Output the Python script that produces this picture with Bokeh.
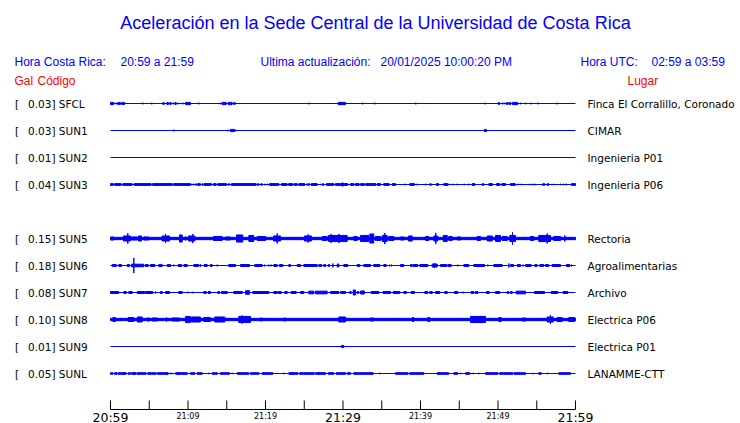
from bokeh.plotting import figure
from bokeh.models import Range1d, Label, ColumnDataSource
from bokeh.core.properties import value
from bokeh.embed import file_html
from bokeh.resources import INLINE

# ---------------- data ----------------
codes = ["SFCL", "SUN1", "SUN2", "SUN3", "SUN5", "SUN6", "SUN7", "SUN8", "SUN9", "SUNL"]
peak_gal = [0.03, 0.03, 0.01, 0.04, 0.15, 0.18, 0.08, 0.10, 0.01, 0.05]
places = ["Finca El Corralillo, Coronado", "CIMAR", "Ingenieria P01", "Ingenieria P06",
          "Rectoria", "Agroalimentarias", "Archivo", "Electrica P06", "Electrica P01",
          "LANAMME-CTT"]

tick_minutes = [0, 5, 10, 15, 20, 25, 30, 35, 40, 45, 50, 55, 60]
big_label_minutes = [0, 30, 60]
big_labels = ["20:59", "21:29", "21:59"]
small_label_minutes = [10, 20, 40, 50]
small_labels = ["21:09", "21:19", "21:39", "21:49"]

# trace activity: (start minute, end minute, half amplitude in mGal) read from the record
sfcl_events = [(0.00, 0.43, 25), (0.77, 0.77, 18), (0.94, 1.29, 20), (1.46, 1.81, 22), (4.17, 4.17, 18),
               (4.74, 4.74, 12), (5.33, 5.33, 18), (6.75, 6.93, 20), (7.26, 7.48, 20), (7.65, 7.83, 20),
               (8.09, 8.09, 18), (8.30, 8.48, 20), (8.74, 8.74, 18), (9.33, 9.33, 18), (9.68, 10.32, 25),
               (10.88, 10.88, 12), (11.39, 11.39, 18), (14.19, 14.19, 18), (14.41, 14.93, 25),
               (15.19, 15.70, 25), (15.91, 16.09, 20), (17.33, 17.33, 12), (25.59, 25.59, 18),
               (29.38, 30.32, 25), (32.52, 32.52, 18), (34.10, 34.10, 18), (39.39, 39.39, 18),
               (48.35, 48.35, 18), (50.03, 50.19, 20), (50.54, 50.54, 18), (50.80, 50.80, 18),
               (51.06, 51.23, 20), (51.39, 51.65, 20), (51.87, 52.55, 25), (52.94, 52.94, 18),
               (53.59, 53.59, 18), (54.23, 54.23, 18), (55.14, 55.14, 18), (57.59, 57.59, 18)]

sun1_events = [(8.17, 8.17, 20), (15.14, 15.14, 18), (15.48, 16.00, 25), (16.17, 16.17, 18),
               (18.19, 18.19, 10), (18.45, 18.45, 10), (48.26, 48.52, 25)]

sun2_events = [(29.97, 29.97, 10)]

sun3_events = [(0.00, 0.35, 20), (0.52, 1.38, 20), (1.59, 2.80, 20), (3.06, 5.25, 20), (5.42, 7.96, 20),
               (8.13, 10.32, 20), (10.49, 10.49, 16), (10.71, 10.71, 16), (10.97, 11.06, 18),
               (11.26, 11.61, 20), (11.83, 11.96, 18), (12.09, 13.03, 20), (13.29, 13.64, 20),
               (13.85, 14.97, 20), (15.19, 15.35, 18), (15.61, 18.80, 20), (18.97, 19.14, 18),
               (19.39, 19.57, 18), (19.91, 19.91, 16), (20.26, 20.26, 16), (20.52, 21.72, 20),
               (22.06, 22.80, 20), (22.97, 23.52, 20), (23.70, 24.09, 20), (24.30, 25.07, 20),
               (25.29, 25.29, 16), (25.46, 25.68, 18), (25.90, 26.67, 20), (27.14, 27.14, 16),
               (27.35, 27.52, 18), (27.87, 28.81, 20), (29.03, 30.62, 20), (29.95, 29.95, 45),
               (30.97, 31.39, 20), (31.57, 32.09, 20), (32.26, 32.77, 20), (32.94, 34.23, 20),
               (34.41, 34.84, 20), (35.26, 35.96, 20), (36.35, 36.77, 20), (37.97, 37.97, 16),
               (38.62, 39.23, 20), (39.57, 39.57, 16), (40.68, 40.68, 16), (41.20, 41.38, 18),
               (42.06, 42.32, 20), (43.01, 43.52, 20), (43.74, 43.74, 16), (44.17, 44.17, 16),
               (44.74, 44.74, 16), (45.64, 45.64, 16), (46.23, 46.23, 16), (46.67, 47.01, 20),
               (47.96, 48.17, 18), (48.81, 49.29, 20), (49.81, 50.23, 20), (50.49, 50.97, 20),
               (51.61, 52.22, 20), (52.61, 52.61, 16), (53.03, 53.03, 16), (54.10, 54.10, 16),
               (54.49, 54.49, 16), (54.80, 54.80, 16), (55.78, 56.04, 18), (56.35, 56.55, 18),
               (57.20, 57.20, 16), (58.06, 58.06, 16), (58.49, 58.49, 16), (58.84, 58.84, 16),
               (59.48, 60.00, 20)]

sun5_events = [(0.00, 60.00, 26), (0.00, 0.43, 34), (1.68, 2.58, 56), (2.23, 2.23, 117), (2.71, 3.45, 34),
               (3.61, 4.00, 56), (4.30, 4.94, 34), (6.67, 7.61, 56), (7.10, 7.10, 101), (8.90, 9.25, 79),
               (9.68, 9.68, 45), (10.06, 10.88, 56), (10.62, 10.62, 101), (11.83, 11.83, 34),
               (13.29, 14.41, 45), (14.84, 15.48, 34), (16.26, 17.07, 79), (17.85, 18.49, 68),
               (18.93, 20.00, 45), (21.03, 21.94, 56), (21.51, 21.51, 112), (22.80, 22.80, 34),
               (25.03, 25.94, 56), (25.51, 25.51, 90), (27.32, 27.96, 45), (28.13, 29.68, 68),
               (28.48, 28.48, 101), (29.46, 29.46, 101), (29.68, 30.54, 68), (31.39, 31.83, 45),
               (32.26, 33.33, 68), (33.46, 33.97, 101), (34.19, 34.84, 45), (35.06, 35.70, 68),
               (35.39, 35.39, 124), (35.91, 36.55, 45), (37.42, 37.85, 34), (38.45, 38.93, 56),
               (40.65, 41.07, 45), (41.72, 42.23, 56), (41.97, 41.97, 124), (42.93, 43.45, 68),
               (43.65, 44.09, 45), (44.74, 45.16, 34), (47.31, 47.74, 45), (48.61, 49.25, 56),
               (49.68, 50.32, 68), (50.54, 51.19, 45), (51.52, 52.26, 68), (51.87, 51.87, 135),
               (53.33, 53.33, 34), (54.19, 54.62, 45), (55.26, 56.77, 68), (56.35, 56.35, 112),
               (57.20, 58.06, 45), (58.62, 58.62, 68)]

sun6_events = [(0.22, 0.74, 22), (1.07, 1.42, 22), (2.15, 2.45, 22), (2.71, 3.45, 30), (3.01, 3.01, 169),
               (3.45, 4.30, 28), (4.52, 4.86, 22), (5.16, 5.72, 22), (6.23, 6.67, 24), (7.32, 7.74, 22),
               (8.17, 8.17, 20), (8.74, 9.16, 22), (9.46, 9.90, 22), (10.75, 11.39, 22), (11.61, 11.61, 34),
               (12.09, 12.48, 22), (12.90, 13.12, 22), (13.77, 13.77, 20), (15.26, 16.13, 22),
               (16.77, 17.94, 22), (18.62, 19.57, 22), (19.87, 19.87, 20), (20.43, 20.43, 20),
               (20.74, 20.74, 20), (21.07, 21.51, 22), (21.81, 22.23, 22), (23.01, 23.23, 22),
               (24.09, 24.52, 22), (24.94, 26.67, 22), (26.88, 27.23, 22), (27.52, 27.74, 22),
               (28.09, 28.26, 22), (28.68, 28.68, 45), (29.25, 29.46, 34), (30.10, 30.62, 22),
               (31.83, 32.17, 22), (32.68, 33.55, 22), (33.97, 34.75, 22), (35.26, 35.57, 22),
               (36.00, 36.00, 20), (36.26, 36.26, 20), (37.42, 37.85, 22), (38.71, 38.93, 22),
               (39.06, 39.65, 22), (39.91, 40.94, 22), (41.51, 42.15, 34), (41.81, 41.81, 56),
               (42.58, 43.35, 22), (43.52, 43.96, 22), (44.81, 44.81, 20), (45.59, 46.23, 22),
               (46.88, 48.26, 22), (48.68, 48.68, 20), (49.46, 50.54, 22), (51.39, 51.39, 45),
               (51.61, 52.03, 22), (52.48, 52.90, 22), (53.25, 53.25, 20), (53.55, 54.28, 22),
               (54.75, 55.05, 22), (55.39, 55.91, 22), (56.13, 56.55, 22), (56.99, 58.06, 22),
               (58.84, 59.26, 22), (59.48, 59.48, 20)]

sun7_events = [(0.00, 1.07, 22), (1.72, 2.03, 22), (2.36, 2.80, 22), (3.45, 4.39, 22), (4.52, 5.46, 22),
               (5.81, 5.81, 20), (6.45, 6.67, 22), (7.10, 7.61, 22), (8.81, 9.25, 22), (9.97, 9.97, 18),
               (10.62, 10.62, 18), (12.04, 12.35, 22), (12.61, 12.90, 22), (13.85, 14.06, 22),
               (14.32, 15.06, 22), (15.91, 16.99, 22), (17.42, 17.94, 40), (18.36, 20.43, 22),
               (21.07, 21.51, 22), (21.64, 22.03, 22), (22.49, 22.80, 22), (23.32, 23.96, 22),
               (24.52, 24.94, 22), (25.59, 26.23, 30), (26.45, 27.96, 30), (28.39, 29.46, 22),
               (29.68, 30.32, 22), (30.88, 31.06, 22), (31.32, 31.61, 56), (31.83, 32.04, 22),
               (32.26, 32.77, 34), (33.64, 34.62, 22), (35.18, 36.13, 22), (36.48, 37.33, 22),
               (37.85, 38.19, 22), (38.80, 39.23, 22), (40.56, 40.94, 22), (41.20, 41.51, 22),
               (41.94, 42.49, 22), (43.14, 43.45, 22), (44.39, 44.81, 22), (45.51, 45.51, 18),
               (46.54, 46.88, 22), (47.10, 47.39, 22), (48.52, 48.86, 22), (49.68, 50.23, 22),
               (51.19, 51.39, 22), (51.61, 51.83, 22), (52.35, 53.55, 30), (54.71, 56.00, 22),
               (56.86, 57.72, 22), (58.41, 59.01, 22)]

sun8_events = [(0.00, 60.00, 26), (0.30, 0.65, 45), (1.29, 1.29, 34), (2.28, 3.01, 45), (3.45, 4.09, 56),
               (4.74, 5.03, 34), (5.38, 6.03, 34), (7.23, 7.23, 45), (7.96, 8.90, 34), (9.68, 10.32, 68),
               (10.45, 11.61, 56), (12.04, 12.90, 45), (13.45, 14.75, 56), (15.35, 15.35, 34),
               (16.55, 18.06, 68), (16.99, 16.99, 90), (19.35, 19.57, 34), (20.65, 20.65, 34),
               (22.36, 22.58, 34), (29.46, 30.32, 56), (33.55, 33.97, 34), (36.77, 36.77, 34),
               (38.93, 39.14, 45), (40.94, 41.20, 45), (45.16, 45.16, 34), (46.45, 48.39, 68),
               (47.74, 47.74, 79), (48.81, 48.81, 34), (50.10, 50.41, 45), (52.03, 52.03, 34),
               (53.12, 53.55, 34), (55.06, 55.06, 34), (56.35, 57.12, 56), (56.77, 56.77, 101),
               (57.64, 58.28, 45), (59.14, 59.91, 45)]

sun9_events = [(29.80, 30.10, 22)]

sunl_events = [(0.00, 0.30, 18), (0.52, 0.86, 18), (0.99, 2.03, 18), (1.72, 1.72, 34), (2.28, 2.58, 18),
               (2.71, 3.32, 18), (3.01, 3.01, 34), (3.45, 4.60, 18), (4.80, 5.90, 18), (6.05, 7.45, 18),
               (7.32, 7.32, 34), (7.74, 7.74, 16), (7.96, 7.96, 16), (8.39, 9.90, 18), (8.74, 8.74, 34),
               (10.32, 10.88, 18), (11.19, 11.83, 18), (12.68, 12.68, 16), (13.12, 13.77, 18),
               (14.19, 15.35, 18), (15.70, 15.70, 16), (16.35, 17.85, 18), (18.06, 19.14, 18),
               (19.57, 20.94, 18), (22.36, 22.36, 16), (23.01, 24.20, 18), (23.44, 23.44, 34),
               (24.40, 26.30, 18), (26.45, 27.74, 18), (26.88, 26.88, 34), (28.09, 28.81, 18),
               (29.12, 30.32, 18), (30.54, 30.97, 18), (31.40, 33.55, 18), (33.55, 33.90, 18),
               (34.75, 34.75, 16), (36.77, 38.40, 18), (38.60, 40.43, 18), (42.15, 43.65, 18),
               (44.30, 44.81, 18), (45.16, 45.16, 16), (45.81, 46.36, 18), (46.80, 46.80, 16),
               (47.53, 47.53, 16), (48.39, 50.00, 18), (50.20, 51.90, 18), (52.05, 53.55, 18),
               (54.54, 54.54, 16), (55.26, 55.57, 18), (56.35, 56.35, 16), (57.85, 59.35, 18)]

station_events = [sfcl_events, sun1_events, sun2_events, sun3_events, sun5_events,
                  sun6_events, sun7_events, sun8_events, sun9_events, sunl_events]

# ---------------- layout helpers ----------------
W, H = 740, 423
PX_PER_MIN = 7.75          # horizontal scale
PX_PER_GAL = 45.0          # vertical scale
ROW_GAL = 0.6              # spacing between station rows
X0_PAGE, Y0_PAGE = 110.0, 103.0   # page position of minute 0 / first row


def px(page_x):
    return (page_x - X0_PAGE) / PX_PER_MIN


def py(page_y):
    return (Y0_PAGE - page_y) / PX_PER_GAL


BLUE = "#0000FF"
RED = "#FF0000"

p = figure(width=W, height=H, title=None,
           x_range=Range1d(px(0), px(W)), y_range=Range1d(py(H), py(0)),
           x_axis_type=None, y_axis_type=None, output_backend="svg",
           toolbar_location=None, min_border=0, outline_line_color=None)
p.background_fill_color = "white"
p.border_fill_color = "white"

# rows (SUN4 slot is left empty)
row_y = []
for i in range(len(codes)):
    slot = i if i < 4 else i + 1
    row_y.append(-ROW_GAL * slot)

# baselines
p.segment(x0=[0] * len(codes), x1=[60] * len(codes), y0=row_y, y1=row_y,
          line_color=BLUE, line_width=1)

# trace activity
left, right, bottom, top = [], [], [], []
for y0, evs in zip(row_y, station_events):
    for t0, t1, amp in evs:
        a = amp / 1000.0
        left.append(t0)
        right.append(t1)
        bottom.append(y0 - a)
        top.append(y0 + a)
src = ColumnDataSource(dict(left=left, right=right, bottom=bottom, top=top))
p.quad(left="left", right="right", bottom="bottom", top="top", source=src,
       fill_color=BLUE, line_color=BLUE, line_width=1)

# station labels
n = len(codes)
text_y = [y - 0.5 / PX_PER_GAL for y in row_y]
p.text(x=[px(14.5)] * n, y=text_y, text=["["] * n, text_font=value("DejaVu Sans"),
       text_font_size="10.5px", text_color="black", text_align="left", text_baseline="middle")
p.text(x=[px(27.5)] * n, y=text_y, text=[f"{g:.2f}] {c}" for g, c in zip(peak_gal, codes)],
       text_font=value("DejaVu Sans"), text_font_size="10.5px", text_color="black",
       text_align="left", text_baseline="middle")
p.text(x=[px(587)] * n, y=text_y, text=places, text_font=value("DejaVu Sans"),
       text_font_size="10.5px", text_color="black", text_align="left", text_baseline="middle")

# time axis
axis_y = py(409)
p.segment(x0=[0], x1=[60], y0=[axis_y], y1=[axis_y], line_color="black", line_width=1)
p.segment(x0=tick_minutes, x1=tick_minutes, y0=[py(400)] * len(tick_minutes),
          y1=[axis_y] * len(tick_minutes), line_color="black", line_width=1)
p.text(x=big_label_minutes, y=[py(416.5)] * len(big_label_minutes), text=big_labels,
       text_font=value("DejaVu Sans"), text_font_size="12.5px", text_color="black",
       text_align="center", text_baseline="middle")
p.text(x=small_label_minutes, y=[py(415.5)] * len(small_label_minutes), text=small_labels,
       text_font=value("DejaVu Sans"), text_font_size="8px", text_color="black",
       text_align="center", text_baseline="middle")


# header texts
def add_label(text, x, y, color, size, align="left", font="Liberation Sans"):
    p.add_layout(Label(x=px(x), y=py(y), text=text, text_color=color, text_font_size=size,
                       text_font=font, text_align=align, text_baseline="middle"))


add_label("Aceleración en la Sede Central de la Universidad de Costa Rica", 375, 22, BLUE, "18px",
          align="center")
add_label("Hora Costa Rica:", 14, 61, BLUE, "12px")
add_label("20:59 a 21:59", 120, 61, BLUE, "12px")
add_label("Ultima actualización:", 260, 61, BLUE, "12px")
add_label("20/01/2025 10:00:20 PM", 380, 61, BLUE, "12px")
add_label("Hora UTC:", 580, 61, BLUE, "12px")
add_label("02:59 a 03:59", 651, 61, BLUE, "12px")
add_label("Gal", 14, 80, RED, "12px")
add_label("Código", 37, 80, RED, "12px")
add_label("Lugar", 627, 80, RED, "12px")

open("out.html", "w").write(file_html(p, INLINE))
